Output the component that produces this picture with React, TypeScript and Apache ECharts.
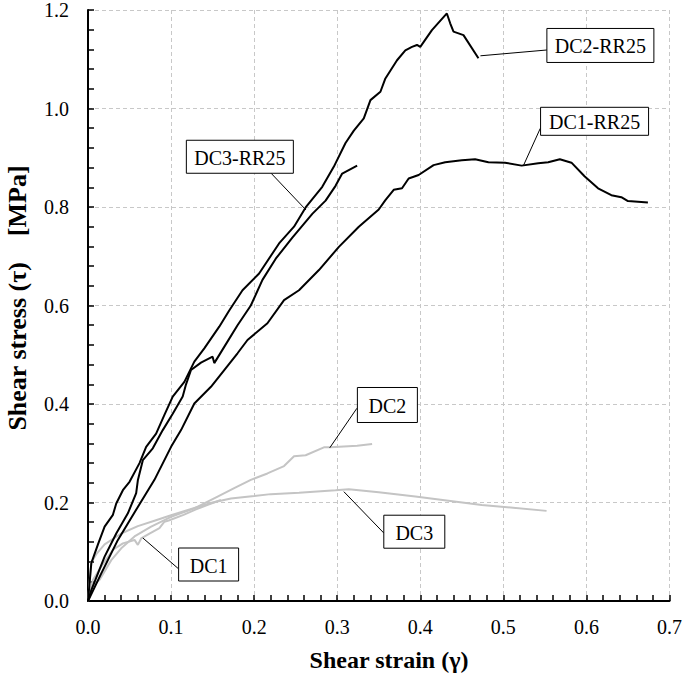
import React, { useEffect, useRef } from "react";
import * as echarts from "echarts";

// ---- Data (shear strain γ, shear stress τ [MPa]) ----
const dc2rr25: [number, number][] = [
  [0, 0], [0.004, 0.077], [0.012, 0.115], [0.020, 0.151], [0.030, 0.175], [0.034, 0.198], [0.042, 0.225],
  [0.050, 0.242], [0.062, 0.280], [0.070, 0.313], [0.082, 0.340], [0.092, 0.378], [0.102, 0.415],
  [0.116, 0.445], [0.128, 0.486], [0.140, 0.513], [0.158, 0.557], [0.170, 0.590], [0.186, 0.631],
  [0.206, 0.665], [0.230, 0.726], [0.248, 0.760], [0.262, 0.799], [0.282, 0.841], [0.296, 0.882],
  [0.310, 0.930], [0.320, 0.955], [0.332, 0.980], [0.340, 1.017], [0.352, 1.034], [0.358, 1.061],
  [0.372, 1.098], [0.382, 1.118], [0.390, 1.125], [0.396, 1.129], [0.400, 1.125], [0.414, 1.159],
  [0.432, 1.193], [0.436, 1.173], [0.440, 1.156], [0.452, 1.149], [0.470, 1.102],
];

const dc3rr25: [number, number][] = [
  [0, 0], [0.004, 0.022], [0.020, 0.090], [0.034, 0.137], [0.048, 0.178], [0.058, 0.219], [0.060, 0.245],
  [0.066, 0.286], [0.078, 0.310], [0.090, 0.347], [0.102, 0.380], [0.114, 0.415], [0.118, 0.440],
  [0.124, 0.469], [0.136, 0.484], [0.150, 0.496], [0.152, 0.483], [0.164, 0.516], [0.180, 0.560],
  [0.196, 0.600], [0.210, 0.652], [0.226, 0.695], [0.246, 0.738], [0.270, 0.786], [0.286, 0.813],
  [0.298, 0.843], [0.306, 0.868], [0.324, 0.884],
];

const dc1rr25: [number, number][] = [
  [0, 0], [0.016, 0.056], [0.036, 0.124], [0.060, 0.191], [0.080, 0.246], [0.100, 0.313], [0.112, 0.347],
  [0.128, 0.401], [0.148, 0.435], [0.164, 0.469], [0.180, 0.503], [0.192, 0.530], [0.216, 0.564],
  [0.236, 0.611], [0.254, 0.631], [0.278, 0.672], [0.302, 0.719], [0.326, 0.760], [0.350, 0.795],
  [0.358, 0.814], [0.368, 0.835], [0.378, 0.838], [0.386, 0.858], [0.398, 0.865], [0.416, 0.885],
  [0.430, 0.891], [0.450, 0.895], [0.466, 0.897], [0.482, 0.891], [0.502, 0.890], [0.522, 0.884],
  [0.542, 0.889], [0.554, 0.891], [0.568, 0.897], [0.582, 0.890], [0.598, 0.862], [0.614, 0.838],
  [0.630, 0.824], [0.642, 0.820], [0.650, 0.812], [0.674, 0.809],
];

const dc2: [number, number][] = [
  [0, 0], [0.004, 0.029], [0.014, 0.043], [0.028, 0.083], [0.040, 0.107], [0.056, 0.131], [0.076, 0.151],
  [0.100, 0.171], [0.128, 0.188], [0.156, 0.212], [0.176, 0.229], [0.196, 0.246], [0.216, 0.259],
  [0.236, 0.274], [0.248, 0.294], [0.262, 0.296], [0.284, 0.312], [0.292, 0.312], [0.324, 0.315],
  [0.342, 0.319],
];

const dc3: [number, number][] = [
  [0, 0], [0.004, 0.078], [0.010, 0.095], [0.020, 0.115], [0.040, 0.137], [0.060, 0.152], [0.080, 0.163],
  [0.100, 0.174], [0.130, 0.190], [0.150, 0.200], [0.172, 0.208], [0.200, 0.213], [0.220, 0.217],
  [0.254, 0.220], [0.298, 0.225], [0.314, 0.227], [0.350, 0.221], [0.394, 0.212], [0.474, 0.195],
  [0.552, 0.183],
];

const dc1: [number, number][] = [
  [0, 0], [0.006, 0.043], [0.018, 0.075], [0.030, 0.104], [0.042, 0.117], [0.056, 0.124], [0.060, 0.114],
  [0.064, 0.127], [0.074, 0.137], [0.086, 0.148], [0.092, 0.161], [0.098, 0.164], [0.115, 0.175],
  [0.130, 0.186], [0.145, 0.196], [0.160, 0.205],
];

const xTicks = ["0.0", "0.1", "0.2", "0.3", "0.4", "0.5", "0.6", "0.7"];
const yTicks = ["0.0", "0.2", "0.4", "0.6", "0.8", "1.0", "1.2"];

const seriesNames = ["DC1", "DC2", "DC3", "DC1-RR25", "DC2-RR25", "DC3-RR25"];
const seriesData = [dc1, dc2, dc3, dc1rr25, dc2rr25, dc3rr25];

// Callout labels: box centre, leader start and end (data coordinates)
const callouts = [
  { text: "DC1", box: [0.1452, 0.0741], from: [0.1083, 0.0664], to: [0.066, 0.128], w: 60, h: 33 },
  { text: "DC2", box: [0.3604, 0.398], from: [0.3237, 0.3913], to: [0.291, 0.311], w: 60, h: 35 },
  { text: "DC3", box: [0.3928, 0.1407], from: [0.3564, 0.1375], to: [0.308, 0.222], w: 61, h: 33 },
  { text: "DC3-RR25", box: [0.1828, 0.902], from: [0.2205, 0.8684], to: [0.2624, 0.794], w: 107, h: 33 },
  { text: "DC2-RR25", box: [0.6168, 1.128], from: [0.5524, 1.1188], to: [0.4724, 1.107], w: 107, h: 34 },
  { text: "DC1-RR25", box: [0.6098, 0.974], from: [0.5445, 0.9598], to: [0.5244, 0.885], w: 108, h: 28 },
];

const FONT = "Times New Roman, Liberation Serif, DejaVu Serif, serif";

export default function App() {
  const ref = useRef<HTMLDivElement>(null);

  useEffect(() => {
    if (!ref.current) return;
    const chart = echarts.init(ref.current, undefined, { renderer: "svg" });

    const series = seriesNames.map((name, i) => ({
      name,
      type: "line",
      data: seriesData[i],
      showSymbol: false,
      symbol: "none",
      smooth: false,
      lineStyle: { color: i < 3 ? "#c4c4c4" : "#000000", width: 2 },
      z: i < 3 ? 2 : 3,
    }));

    chart.setOption({
      animation: false,
      backgroundColor: "#ffffff",
      textStyle: { fontFamily: FONT },
      grid: { left: 88, right: 13.5, top: 10, bottom: 75, containLabel: false },
      xAxis: {
        type: "value",
        min: 0,
        max: 0.7,
        interval: 0.1,
        axisLine: { show: true, onZero: false, lineStyle: { color: "#000", width: 2 } },
        axisTick: { show: true, inside: true, length: 6, lineStyle: { color: "#000", width: 1.5 } },
        minorTick: { show: true, splitNumber: 5, length: 6, lineStyle: { color: "#000", width: 1.5 } },
        axisLabel: {
          margin: 16,
          fontFamily: FONT,
          fontSize: 20,
          color: "#000",
          formatter: (v: number) => xTicks[Math.round(v * 10)] ?? "",
        },
        splitLine: { show: true, lineStyle: { color: "#c8c8c8", type: [4, 3], width: 1 } },
      },
      yAxis: {
        type: "value",
        min: 0,
        max: 1.2,
        interval: 0.2,
        axisLine: { show: true, onZero: false, lineStyle: { color: "#000", width: 2 } },
        axisTick: { show: true, inside: true, length: 6, lineStyle: { color: "#000", width: 1.5 } },
        minorTick: { show: true, splitNumber: 5, length: 6, lineStyle: { color: "#000", width: 1.5 } },
        axisLabel: {
          margin: 19,
          fontFamily: FONT,
          fontSize: 20,
          color: "#000",
          formatter: (v: number) => yTicks[Math.round(v * 5)] ?? "",
        },
        splitLine: { show: true, lineStyle: { color: "#c8c8c8", type: [4, 3], width: 1 } },
      },
      series,
    });

    const px = (p: number[]) => chart.convertToPixel({ gridIndex: 0 }, p) as number[];
    const graphics: any[] = [];
    callouts.forEach((c) => {
      const a = px(c.from);
      const b = px(c.to);
      const ctr = px(c.box);
      graphics.push({
        type: "line",
        shape: { x1: a[0], y1: a[1], x2: b[0], y2: b[1] },
        style: { stroke: "#000", lineWidth: 1 },
        z: 10,
      });
      graphics.push({
        type: "rect",
        shape: { x: ctr[0] - c.w / 2, y: ctr[1] - c.h / 2, width: c.w, height: c.h },
        style: { fill: "#fff", stroke: "#000", lineWidth: 1 },
        z: 11,
      });
      graphics.push({
        type: "text",
        x: ctr[0],
        y: ctr[1] + 1,
        style: {
          text: c.text,
          fill: "#000",
          fontFamily: FONT,
          fontSize: 20,
          align: "center",
          verticalAlign: "middle",
        },
        z: 12,
      });
    });
    graphics.push({
      type: "text",
      x: 389,
      y: 660,
      style: {
        text: "Shear strain (γ)",
        fill: "#000",
        fontFamily: FONT,
        fontSize: 24,
        fontWeight: "bold",
        align: "center",
        verticalAlign: "middle",
      },
      z: 12,
    });
    graphics.push({
      type: "text",
      x: 17,
      y: 298,
      rotation: Math.PI / 2,
      style: {
        text: "Shear stress (τ)    [MPa]",
        fill: "#000",
        fontFamily: FONT,
        fontSize: 26,
        fontWeight: "bold",
        align: "center",
        verticalAlign: "middle",
      },
      z: 12,
    });
    chart.setOption({ graphic: graphics });

    return () => chart.dispose();
  }, []);

  return (
    <div
      ref={ref}
      style={{ position: "fixed", left: 0, top: 0, width: 685, height: 676, background: "#fff" }}
    />
  );
}
